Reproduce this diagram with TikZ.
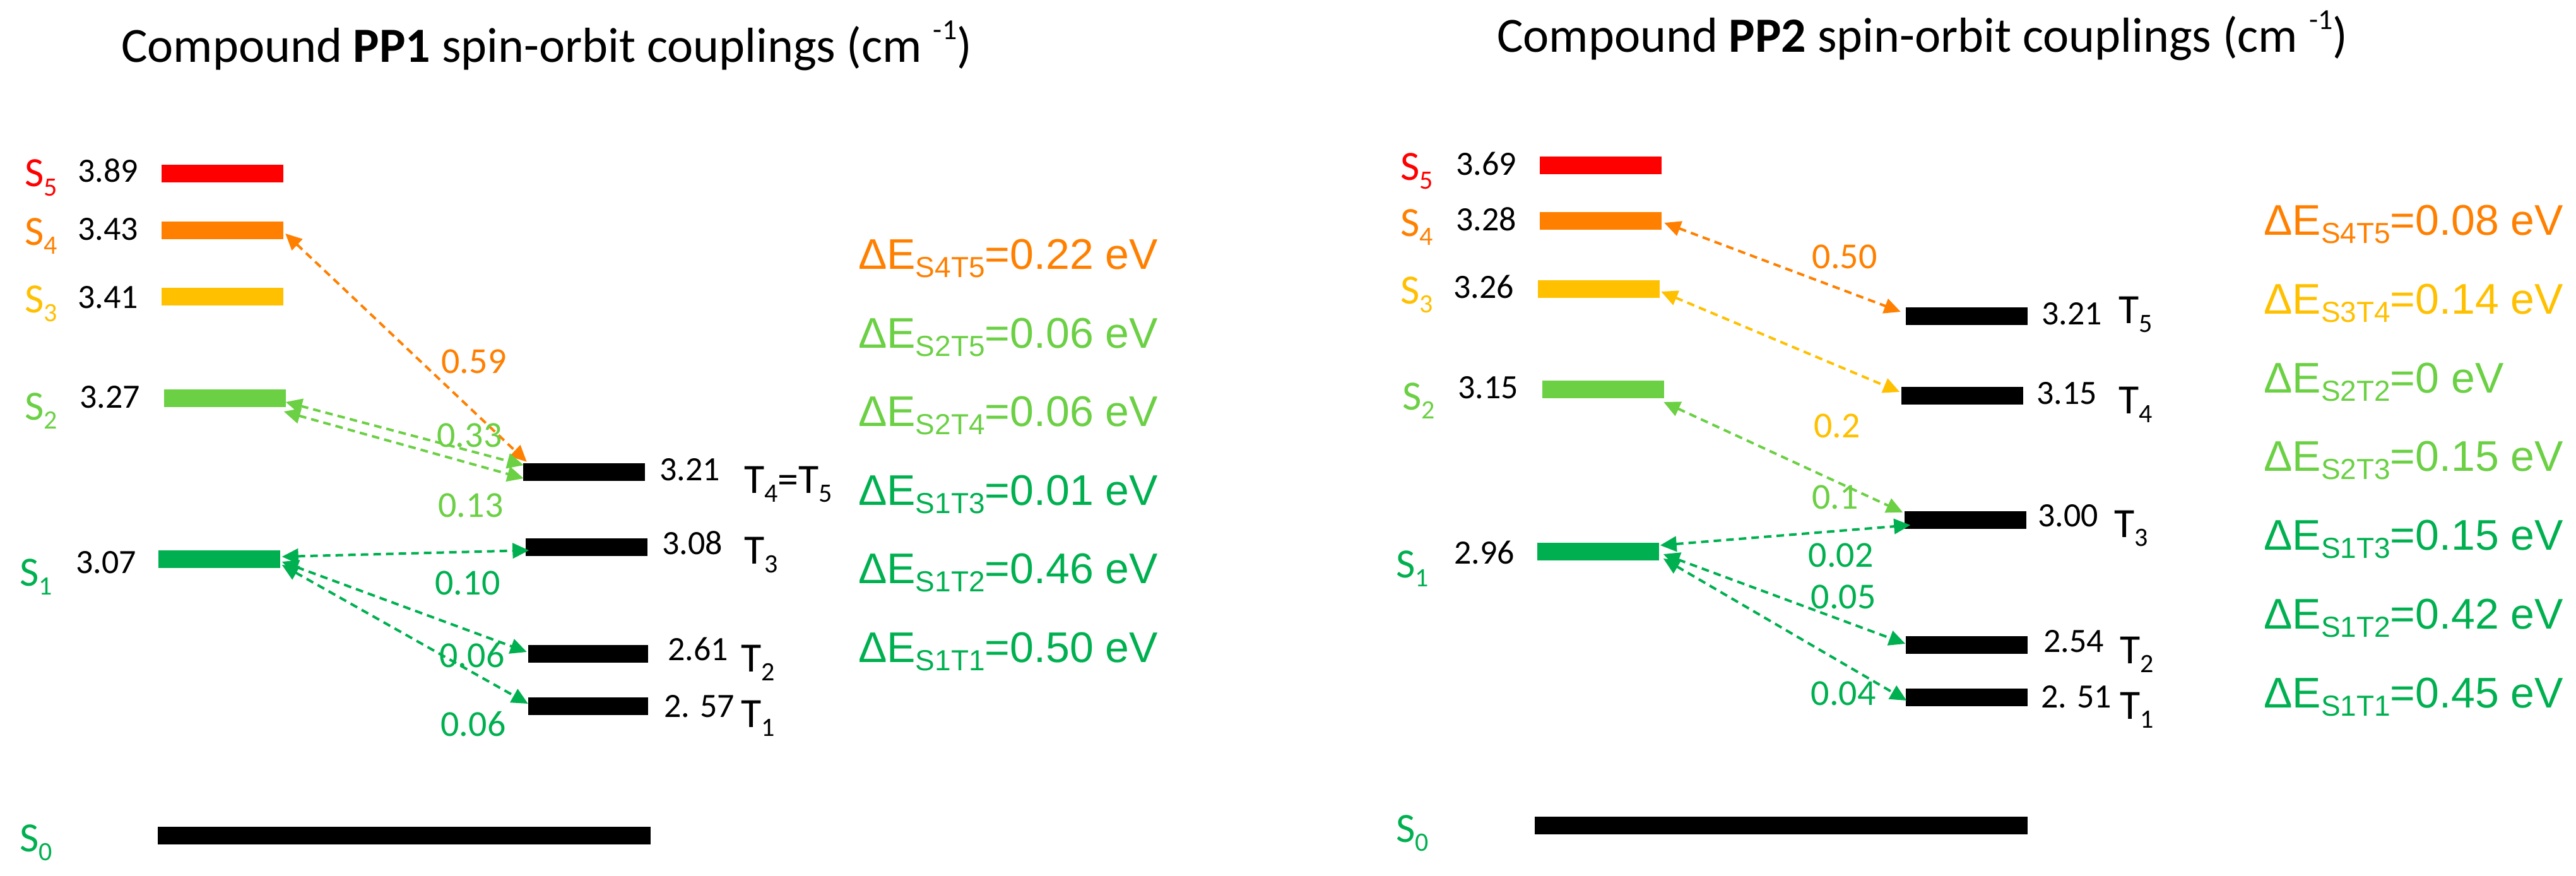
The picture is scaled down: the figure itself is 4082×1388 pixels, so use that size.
\documentclass[tikz,border=0pt]{standalone}
\usepackage{fontspec}
\setmainfont{Carlito}
\newfontfamily\arialf{Liberation Sans}
\usetikzlibrary{arrows.meta}
\definecolor{cRed}{RGB}{255,0,0}
\definecolor{cOrange}{RGB}{255,128,0}
\definecolor{cYellow}{RGB}{255,192,0}
\definecolor{cLight}{RGB}{107,208,68}
\definecolor{cGreen}{RGB}{0,176,80}
\newcommand{\sbs}[1]{\raisebox{-14pt}{\fontsize{42}{42}\selectfont #1}}
\newcommand{\dsub}[1]{\raisebox{-13pt}{\fontsize{46}{46}\selectfont #1}}
\newcommand{\supm}{\raisebox{36pt}{\fontsize{46}{46}\selectfont -1}}
\tikzset{
  lvl/.style={rectangle, inner sep=0pt, minimum width=193pt, minimum height=28pt, draw=none},
  st/.style={anchor=base west, inner sep=0pt, font=\fontsize{66}{70}\selectfont},
  num/.style={anchor=base west, inner sep=0pt, font=\fontsize{54}{60}\selectfont},
  cpl/.style={anchor=center, inner sep=0pt, font=\fontsize{58}{62}\selectfont},
  gap/.style={anchor=base west, inner sep=0pt, font=\arialf\fontsize{68}{72}\selectfont},
  ttl/.style={anchor=base west, inner sep=0pt, font=\fontsize{78}{84}\selectfont},
  soc/.style={line width=4pt, dash pattern=on 12pt off 8pt,
    {Triangle[length=26pt,width=24pt]}-{Triangle[length=26pt,width=24pt]}},
}
\begin{document}
\begin{tikzpicture}[x=1pt,y=-1pt]
\useasboundingbox (0,0) rectangle (4082,1388);

% ===================== PP1 =====================
\node[ttl] (t1) at (192,99) {Compound \textbf{PP1} spin-orbit couplings (cm \supm)};

\node[lvl, fill=cRed]    (p1S5) at (352.5,275) {};
\node[lvl, fill=cOrange] (p1S4) at (352.5,365) {};
\node[lvl, fill=cYellow] (p1S3) at (352.5,470) {};
\node[lvl, fill=cLight]  (p1S2) at (356,631) {};
\node[lvl, fill=cGreen]  (p1S1) at (347,886) {};
\node[lvl, fill=black, minimum width=781pt] (p1S0) at (640.5,1324) {};
\node[lvl, fill=black]   (p1T45) at (925.5,748) {};
\node[lvl, fill=black]   (p1T3) at (929,867) {};
\node[lvl, fill=black, minimum width=190pt] (p1T2) at (932,1036) {};
\node[lvl, fill=black, minimum width=190pt] (p1T1) at (932,1119) {};

\node[st, text=cRed]    (p1lS5) at (39,296) {S\sbs{5}};
\node[num]              (p1nS5) at (123,289) {3.89};
\node[st, text=cOrange] (p1lS4) at (39,388) {S\sbs{4}};
\node[num]              (p1nS4) at (123,380) {3.43};
\node[st, text=cYellow] (p1lS3) at (39,495) {S\sbs{3}};
\node[num]              (p1nS3) at (123,488) {3.41};
\node[st, text=cLight]  (p1lS2) at (39,665) {S\sbs{2}};
\node[num]              (p1nS2) at (126,646) {3.27};
\node[st, text=cGreen]  (p1lS1) at (31,928) {S\sbs{1}};
\node[num]              (p1nS1) at (120,908) {3.07};
\node[st, text=cGreen]  (p1lS0) at (31,1349) {S\sbs{0}};

\node[num] (p1nT45) at (1045,761) {3.21};
\node[st]  (p1lT45) at (1179,781) {T\sbs{4}=T\sbs{5}};
\node[num] (p1nT3) at (1049,878) {3.08};
\node[st]  (p1lT3) at (1179,893) {T\sbs{3}};
\node[num] (p1nT2) at (1058,1046) {2.61};
\node[st]  (p1lT2) at (1174,1064) {T\sbs{2}};
\node[num] (p1nT1) at (1052,1136) {2. 57};
\node[st]  (p1lT1) at (1174,1152) {T\sbs{1}};

\draw[soc, cOrange] ([shift={(3,5)}]p1S4.east) -- ([shift={(6,-2)}]p1T45.north west);
\draw[soc, cLight] ([shift={(0,6)}]p1S2.east) -- ([shift={(1,-11)}]p1T45.west);
\draw[soc, cLight] ([shift={(-3,21)}]p1S2.east) -- ([shift={(1,10)}]p1T45.west);
\draw[soc, cGreen] ([shift={(3,-4)}]p1S1.east) -- ([shift={(6,5)}]p1T3.west);
\draw[soc, cGreen] ([shift={(3,4)}]p1S1.east) -- ([shift={(-2,-3)}]p1T2.west);
\draw[soc, cGreen] ([shift={(3,9)}]p1S1.east) -- ([shift={(0,-4)}]p1T1.west);

\node[cpl, text=cOrange] (p1c1) at (751,573) {0.59};
\node[cpl, text=cLight]  (p1c2) at (744,690) {0.33};
\node[cpl, text=cLight]  (p1c3) at (746,801) {0.13};
\node[cpl, text=cGreen]  (p1c4) at (741,924) {0.10};
\node[cpl, text=cGreen]  (p1c5) at (748,1038) {0.06};
\node[cpl, text=cGreen]  (p1c6) at (750,1147) {0.06};

\node[gap, text=cOrange] (p1g1) at (1360,426) {ΔE\dsub{S4T5}=0.22 eV};
\node[gap, text=cLight]  (p1g2) at (1360,551) {ΔE\dsub{S2T5}=0.06 eV};
\node[gap, text=cLight]  (p1g3) at (1360,675) {ΔE\dsub{S2T4}=0.06 eV};
\node[gap, text=cGreen]  (p1g4) at (1360,800) {ΔE\dsub{S1T3}=0.01 eV};
\node[gap, text=cGreen]  (p1g5) at (1360,924) {ΔE\dsub{S1T2}=0.46 eV};
\node[gap, text=cGreen]  (p1g6) at (1360,1049) {ΔE\dsub{S1T1}=0.50 eV};

% ===================== PP2 =====================
\node[ttl] (t2) at (2372,83) {Compound \textbf{PP2} spin-orbit couplings (cm \supm)};

\node[lvl, fill=cRed]    (p2S5) at (2536.5,262) {};
\node[lvl, fill=cOrange] (p2S4) at (2536.5,350) {};
\node[lvl, fill=cYellow] (p2S3) at (2533.5,458) {};
\node[lvl, fill=cLight]  (p2S2) at (2540.5,617) {};
\node[lvl, fill=cGreen]  (p2S1) at (2532,874) {};
\node[lvl, fill=black, minimum width=781pt] (p2S0) at (2822.5,1308) {};
\node[lvl, fill=black]   (p2T5) at (3116.5,501) {};
\node[lvl, fill=black]   (p2T4) at (3109,627) {};
\node[lvl, fill=black]   (p2T3) at (3114,824) {};
\node[lvl, fill=black]   (p2T2) at (3116,1022) {};
\node[lvl, fill=black]   (p2T1) at (3116,1105) {};

\node[st, text=cRed]    (p2lS5) at (2219,286) {S\sbs{5}};
\node[num]              (p2nS5) at (2307,278) {3.69};
\node[st, text=cOrange] (p2lS4) at (2219,374) {S\sbs{4}};
\node[num]              (p2nS4) at (2307,365) {3.28};
\node[st, text=cYellow] (p2lS3) at (2219,481) {S\sbs{3}};
\node[num]              (p2nS3) at (2303,472) {3.26};
\node[st, text=cLight]  (p2lS2) at (2222,649) {S\sbs{2}};
\node[num]              (p2nS2) at (2310,631) {3.15};
\node[st, text=cGreen]  (p2lS1) at (2212,915) {S\sbs{1}};
\node[num]              (p2nS1) at (2304,893) {2.96};
\node[st, text=cGreen]  (p2lS0) at (2212,1334) {S\sbs{0}};

\node[num] (p2nT5) at (3235,514) {3.21};
\node[st]  (p2lT5) at (3357,512) {T\sbs{5}};
\node[num] (p2nT4) at (3227,640) {3.15};
\node[st]  (p2lT4) at (3357,655) {T\sbs{4}};
\node[num] (p2nT3) at (3229,834) {3.00};
\node[st]  (p2lT3) at (3350,851) {T\sbs{3}};
\node[num] (p2nT2) at (3238,1033) {2.54};
\node[st]  (p2lT2) at (3359,1051) {T\sbs{2}};
\node[num] (p2nT1) at (3234,1121) {2. 51};
\node[st]  (p2lT1) at (3359,1139) {T\sbs{1}};

\draw[soc, cOrange] ([shift={(4,3)}]p2S4.east) -- ([shift={(-8,-7)}]p2T5.west);
\draw[soc, cYellow] ([shift={(2,4)}]p2S3.east) -- ([shift={(-2,-6)}]p2T4.west);
\draw[soc, cLight]  ([shift={(-1,20)}]p2S2.east) -- ([shift={(-2,2)}]p2T3.north west);
\draw[soc, cGreen]  ([shift={(2,-10)}]p2S1.east) -- ([shift={(10,8)}]p2T3.west);
\draw[soc, cGreen]  ([shift={(7,4)}]p2S1.east) -- ([shift={(0,-2)}]p2T2.west);
\draw[soc, cGreen]  ([shift={(7,11)}]p2S1.east) -- ([shift={(2,5)}]p2T1.west);

\node[cpl, text=cOrange] (p2c1) at (2923,407) {0.50};
\node[cpl, text=cYellow] (p2c2) at (2911,675) {0.2};
\node[cpl, text=cLight]  (p2c3) at (2908,788) {0.1};
\node[cpl, text=cGreen]  (p2c4) at (2917,880) {0.02};
\node[cpl, text=cGreen]  (p2c5) at (2921,946) {0.05};
\node[cpl, text=cGreen]  (p2c6) at (2921,1099) {0.04};

\node[gap, text=cOrange] (p2g1) at (3587,372) {ΔE\dsub{S4T5}=0.08 eV};
\node[gap, text=cYellow] (p2g2) at (3587,497) {ΔE\dsub{S3T4}=0.14 eV};
\node[gap, text=cLight]  (p2g3) at (3587,622) {ΔE\dsub{S2T2}=0 eV};
\node[gap, text=cLight]  (p2g4) at (3587,746) {ΔE\dsub{S2T3}=0.15 eV};
\node[gap, text=cGreen]  (p2g5) at (3587,871) {ΔE\dsub{S1T3}=0.15 eV};
\node[gap, text=cGreen]  (p2g6) at (3587,996) {ΔE\dsub{S1T2}=0.42 eV};
\node[gap, text=cGreen]  (p2g7) at (3587,1121) {ΔE\dsub{S1T1}=0.45 eV};
\end{tikzpicture}
\end{document}
